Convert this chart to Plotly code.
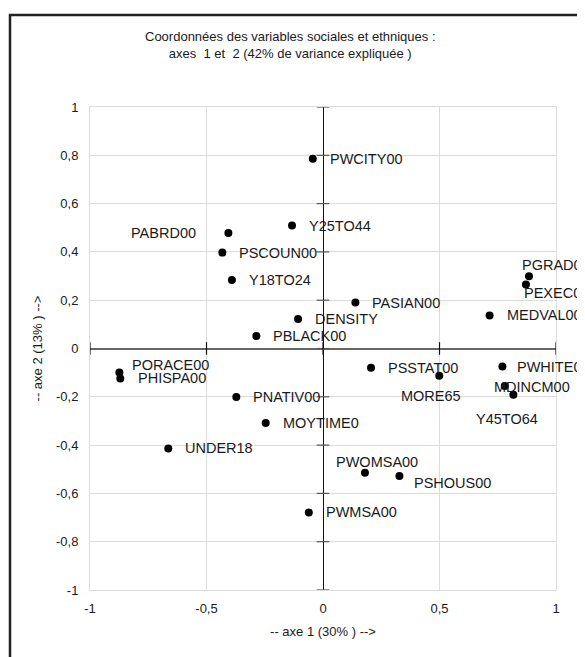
import plotly.graph_objects as go

# ---- data ----
variables = ["PWCITY00", "Y25TO44", "PABRD00", "PSCOUN00", "Y18TO24", "DENSITY",
             "PBLACK00", "PASIAN00", "PGRAD00", "PEXEC00", "MEDVAL00", "PSSTAT00",
             "MORE65", "PWHITE00", "MDINCM00", "Y45TO64", "PORACE00", "PHISPA00",
             "PNATIV00", "MOYTIME0", "UNDER18", "PWMSA00", "PWOMSA00", "PSHOUS00"]
axe1 = [-0.044, -0.133, -0.406, -0.432, -0.391, -0.107,
        -0.286, 0.139, 0.884, 0.871, 0.715, 0.206,
        0.499, 0.770, 0.780, 0.817, -0.874, -0.870,
        -0.372, -0.246, -0.664, -0.061, 0.180, 0.328]
axe2 = [0.786, 0.509, 0.478, 0.397, 0.284, 0.122,
        0.052, 0.190, 0.299, 0.265, 0.137, -0.080,
        -0.113, -0.075, -0.155, -0.192, -0.099, -0.124,
        -0.201, -0.309, -0.414, -0.679, -0.515, -0.528]

x_tickvals = [-1, -0.5, 0, 0.5, 1]
x_ticktext = ["-1", "-0,5", "0", "0,5", "1"]
y_tickvals = [-1, -0.8, -0.6, -0.4, -0.2, 0, 0.2, 0.4, 0.6, 0.8, 1]
y_ticktext = ["-1", "-0,8", "-0,6", "-0,4", "-0,2", "0", "0,2", "0,4", "0,6", "0,8", "1"]

title_text = "Coordonnées des variables sociales et ethniques :<br>axes  1 et  2 (42% de variance expliquée )"
x_title = "-- axe 1 (30% ) -->"
y_title = "-- axe 2 (13% ) -->"

# ---- label placement (pixel offsets: xanchor, xshift, yshift) ----
default_place = ("left", 16, 0)
label_place = {
    "PABRD00": ("right", -31, 0),
    "PGRAD00": ("left", -8, 11),
    "PEXEC00": ("left", -3, -8),
    "MORE65": ("left", -39, -20),
    "PWHITE00": ("left", 14, 0),
    "MDINCM00": ("left", -12, -1),
    "Y45TO64": ("left", -38, -24),
    "PORACE00": ("left", 12, 7),
    "PHISPA00": ("left", 17, 0),
    "PWOMSA00": ("left", -30, 11),
    "PSHOUS00": ("left", 14, -7),
}

FONT = "Liberation Sans, Arial, Helvetica, sans-serif"
TXT = "#1a1a1a"

# page body adds an 8px offset; figure geometry compensates for it
W, H = 577, 649
L, R, T, B = 82, 29, 99, 67
PW, PH = W - L - R, H - T - B


def px_to_paper_x(px):
    return (px - 8 - L) / PW


def px_to_paper_y(py):
    return (H - B - (py - 8)) / PH


fig = go.Figure()

# tick marks crossing the central axes
fig.add_trace(go.Scatter(
    x=[0] * len(y_tickvals), y=y_tickvals, mode="markers",
    marker=dict(symbol="line-ew", size=9, line=dict(color="#555555", width=1.2)),
    hoverinfo="skip", showlegend=False, cliponaxis=False))
fig.add_trace(go.Scatter(
    x=x_tickvals, y=[0] * len(x_tickvals), mode="markers",
    marker=dict(symbol="line-ns", size=9, line=dict(color="#111111", width=1.2)),
    hoverinfo="skip", showlegend=False, cliponaxis=False))

# points
fig.add_trace(go.Scatter(
    x=axe1, y=axe2, mode="markers", text=variables,
    marker=dict(color="black", size=8, line=dict(width=0)),
    showlegend=False, cliponaxis=False))

annotations = []
for name, xv, yv in zip(variables, axe1, axe2):
    xa, xs, ys = label_place.get(name, default_place)
    annotations.append(dict(
        x=xv, y=yv, xref="x", yref="y", text=name, showarrow=False,
        xanchor=xa, yanchor="middle", xshift=xs, yshift=ys,
        font=dict(family=FONT, size=14.5, color=TXT), borderpad=0))

annotations.append(dict(
    x=px_to_paper_x(290), y=px_to_paper_y(45), xref="paper", yref="paper", text=title_text,
    showarrow=False, xanchor="center", yanchor="middle", align="center",
    font=dict(family=FONT, size=13, color=TXT)))

fig.update_layout(
    width=W, height=H,
    margin=dict(l=L, r=R, t=T, b=B),
    paper_bgcolor="white", plot_bgcolor="white",
    font=dict(family=FONT, size=13, color=TXT),
    annotations=annotations,
    xaxis=dict(
        range=[-1, 1], tickvals=x_tickvals, ticktext=x_ticktext,
        showgrid=True, gridcolor="#dcdcdc", gridwidth=1,
        zeroline=True, zerolinecolor="#111111", zerolinewidth=1.3,
        showline=True, linecolor="#dcdcdc", linewidth=1, mirror=True,
        ticks="outside", ticklen=6, tickcolor="rgba(0,0,0,0)",
        tickfont=dict(family=FONT, size=13, color=TXT),
        title=dict(text=x_title, font=dict(family=FONT, size=13, color=TXT), standoff=12),
        fixedrange=True),
    yaxis=dict(
        range=[-1, 1], tickvals=y_tickvals, ticktext=y_ticktext,
        showgrid=True, gridcolor="#dcdcdc", gridwidth=1,
        zeroline=True, zerolinecolor="#666666", zerolinewidth=1.5,
        showline=True, linecolor="#dcdcdc", linewidth=1, mirror=True,
        ticks="outside", ticklen=8, tickcolor="rgba(0,0,0,0)",
        tickfont=dict(family=FONT, size=13, color=TXT),
        title=dict(text=y_title, font=dict(family=FONT, size=13, color=TXT), standoff=10),
        fixedrange=True),
    shapes=[dict(type="rect", xref="paper", yref="paper",
                 x0=px_to_paper_x(10), x1=px_to_paper_x(640),
                 y0=px_to_paper_y(720), y1=px_to_paper_y(15),
                 line=dict(color="#222222", width=2.5), fillcolor="rgba(0,0,0,0)",
                 layer="above")],
)

fig.write_html("out.html")
